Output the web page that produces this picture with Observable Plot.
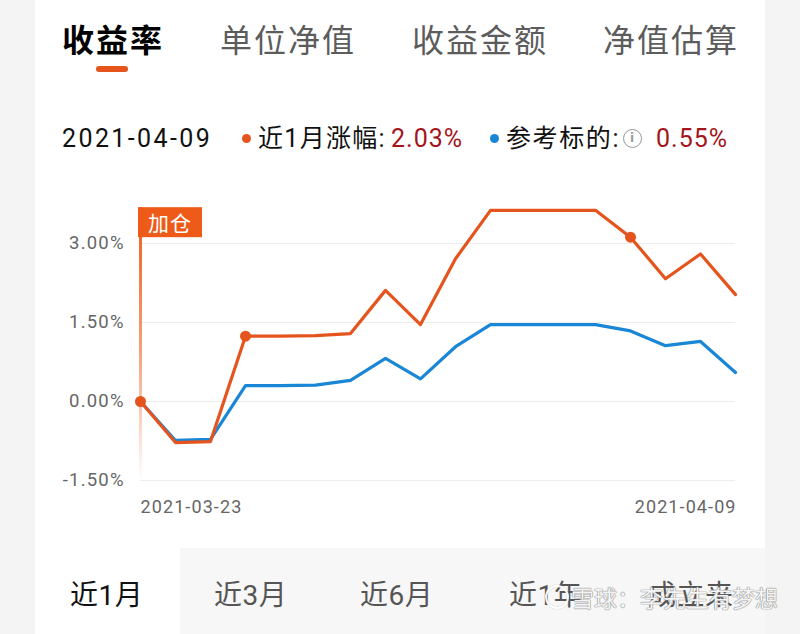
<!DOCTYPE html>
<html><head><meta charset="utf-8">
<script src="https://cdn.jsdelivr.net/npm/d3@7"></script>
<script src="https://cdn.jsdelivr.net/npm/@observablehq/plot@0.6"></script>
<style>
html,body{margin:0;padding:0;background:#f4f4f4;}
#page{position:relative;width:800px;height:634px;overflow:hidden;background:#f4f4f4;font-family:Roboto,"Noto Sans CJK SC",sans-serif;}
#card{position:absolute;left:35px;top:0;width:730px;height:548px;background:#fff;}
#tabsel{position:absolute;left:35px;top:548px;width:145px;height:86px;background:#fff;}
#tabrest{position:absolute;left:180px;top:548px;width:585px;height:86px;background:#f7f7f7;}
.t{position:absolute;white-space:nowrap;}
#chart{position:absolute;left:35px;top:180px;}
.dot{position:absolute;border-radius:50%;}
</style></head>
<body><div id="page"><div id="card"></div><div id="tabsel"></div><div id="tabrest"></div><div id="chart"></div></div>
<script>
// ---- data ----
const topTabs = ["收益率", "单位净值", "收益金额", "净值估算"];
const bottomTabs = ["近1月", "近3月", "近6月", "近1年", "成立来"];
const dates = ["2021-03-23","2021-03-24","2021-03-25","2021-03-26","2021-03-27","2021-03-28","2021-03-29","2021-03-30","2021-03-31","2021-04-01","2021-04-02","2021-04-03","2021-04-04","2021-04-05","2021-04-06","2021-04-07","2021-04-08","2021-04-09"];
const fund  = [0, -0.78, -0.76, 1.24, 1.24, 1.25, 1.29, 2.11, 1.46, 2.71, 3.63, 3.63, 3.63, 3.63, 3.12, 2.33, 2.80, 2.03];
const bench = [0, -0.74, -0.72, 0.30, 0.30, 0.31, 0.40, 0.82, 0.43, 1.04, 1.46, 1.46, 1.46, 1.46, 1.34, 1.06, 1.14, 0.55];
const markerDates = ["2021-03-23", "2021-03-26", "2021-04-06"];
const yTicks = [-1.5, 0, 1.5, 3.0];
const xTickLabels = ["2021-03-23", "2021-04-09"];
const fundLabel = "近1月涨幅:";
const benchLabel = "参考标的:";
const addLabel = "加仓";
const watermark = "雪球：李先生有梦想";

// ---- styles ----
const ORANGE = "#e5541c", BLUE = "#1a86d6", BOX = "#ee5a18", RED = "#a3151b";
const page = document.getElementById("page");
function addText(txt, left, cy, size, color, opts = {}) {
  const d = document.createElement("div");
  d.className = "t";
  d.textContent = txt;
  d.style.left = left + "px";
  d.style.top = (cy - size / 2) + "px";
  d.style.fontSize = size + "px";
  d.style.lineHeight = size + "px";
  d.style.height = size + "px";
  d.style.color = color;
  if (opts.weight) d.style.fontWeight = opts.weight;
  if (opts.ls) d.style.letterSpacing = opts.ls + "px";
  if (opts.family) d.style.fontFamily = opts.family;
  if (opts.shadow) d.style.textShadow = opts.shadow;
  page.appendChild(d);
  return d;
}
function addDot(cx, cy, r, color, border) {
  const d = document.createElement("div");
  d.className = "dot";
  d.style.left = (cx - r) + "px"; d.style.top = (cy - r) + "px";
  d.style.width = (2 * r) + "px"; d.style.height = (2 * r) + "px";
  if (border) { d.style.border = border; d.style.boxSizing = "border-box"; }
  else d.style.background = color;
  page.appendChild(d);
  return d;
}

// top tabs
const topLeft = [62, 220, 412, 603];
topTabs.forEach((t, i) => addText(t, topLeft[i], 38, 32, i === 0 ? "#000" : "#5c5c5c",
  {weight: i === 0 ? 700 : 400, ls: 2, family: '"Noto Sans CJK SC"'}));
const ul = document.createElement("div");
Object.assign(ul.style, {position: "absolute", left: "96px", top: "66px", width: "32px", height: "6px", borderRadius: "3px", background: ORANGE});
page.appendChild(ul);

// legend row
const fmt = v => v.toFixed(2) + "%";
addText(dates[dates.length - 1], 62, 138, 25, "#111", {ls: 2.4});
addDot(246, 138, 4.5, ORANGE);
addText(fundLabel, 258, 138, 25, "#111", {ls: 1.3});
addText(fmt(fund[fund.length - 1]), 391, 138, 25, RED, {ls: 1});
addDot(494, 138, 4.5, BLUE);
addText(benchLabel, 506, 138, 25, "#111", {ls: 1.6});
const info = addDot(632, 138, 9.5, null, "1.5px solid #9a9a9a");
info.innerHTML = '<div style="position:absolute;left:0;top:0;width:100%;height:100%;text-align:center;font:bold 12px/16px DejaVu Sans, sans-serif;color:#9a9a9a">i</div>';
addText(fmt(bench[bench.length - 1]), 656, 138, 25, RED, {ls: 1});

// bottom tabs
const botLeft = [70, 214, 360, 509, 648];
bottomTabs.forEach((t, i) => addText(t, botLeft[i], 596, 28, i === 0 ? "#111" : "#555", {ls: 0.5}));

// watermark
const wm = addDot(557, 597, 12, null, "2px solid rgba(255,255,255,0.9)");
wm.style.boxShadow = "0 0 1px #999, inset 0 0 1px #999";
addText(watermark, 571, 597, 23, "rgba(255,255,255,0.92)",
  {shadow: "0 0 1px #8a8a8a, 0 0 1px #8a8a8a, 0 0 1px #8a8a8a", family: '"Noto Sans CJK SC"'});

// ---- chart ----
const data = dates.map((d, i) => ({date: new Date(d), fund: fund[i], bench: bench[i]}));
const markers = data.filter(d => markerDates.includes(d.date.toISOString().slice(0, 10)));
const ruleTop = 3.68;
const plot = Plot.plot({
  width: 730, height: 350,
  marginLeft: 105, marginRight: 30, marginTop: 63, marginBottom: 50,
  style: {background: "transparent", fontFamily: "Roboto, sans-serif", overflow: "visible"},
  x: {type: "utc", domain: [new Date(dates[0]), new Date(dates[dates.length - 1])], axis: null},
  y: {domain: [-1.5, 3.0], axis: null},
  marks: [
    Plot.gridY(yTicks, {stroke: "#ececec", strokeOpacity: 1, strokeWidth: 1}),
    Plot.text(yTicks, {y: d => d, frameAnchor: "left", dx: -15.8, textAnchor: "end", text: d => fmt(d), fill: "#666", fontSize: 18.5}),
    Plot.text([xTickLabels[0]], {x: d => new Date(d), frameAnchor: "bottom", dy: 32, textAnchor: "start", text: d => d, fill: "#666", fontSize: 18}),
    Plot.text([xTickLabels[1]], {x: d => new Date(d), frameAnchor: "bottom", dy: 32, dx: 1.1, textAnchor: "end", text: d => d, fill: "#666", fontSize: 18}),
    Plot.ruleX([data[0]], {x: "date", y1: ruleTop, y2: -1.5, stroke: "url(#addGrad)", strokeWidth: 3}),
    Plot.line(data, {x: "date", y: "bench", stroke: BLUE, strokeWidth: 3.2, strokeLinejoin: "round", strokeLinecap: "round"}),
    Plot.line(data, {x: "date", y: "fund", stroke: ORANGE, strokeWidth: 3.2, strokeLinejoin: "round", strokeLinecap: "round"}),
    Plot.dot(markers, {x: "date", y: "fund", r: 5.5, fill: ORANGE})
  ]
});
const xs = plot.scale("x"), ys = plot.scale("y");
const svg = d3.select(plot);
svg.selectAll("text").each(function () {
  const s = this.textContent;
  this.style.letterSpacing = s.endsWith("%") ? "1.2px" : "1.1px";
});
const defs = svg.insert("defs", ":first-child");
const g = defs.append("linearGradient").attr("id", "addGrad").attr("gradientUnits", "userSpaceOnUse")
  .attr("x1", 0).attr("x2", 0).attr("y1", ys.apply(ruleTop)).attr("y2", ys.apply(-1.5));
g.append("stop").attr("offset", 0).attr("stop-color", BOX).attr("stop-opacity", 1);
g.append("stop").attr("offset", 0.55).attr("stop-color", BOX).attr("stop-opacity", 0.55);
g.append("stop").attr("offset", 1).attr("stop-color", BOX).attr("stop-opacity", 0);
const bx = xs.apply(data[0].date) - 2, by = ys.apply(ruleTop);
const lab = svg.append("g");
lab.append("rect").attr("x", bx).attr("y", by).attr("width", 64).attr("height", 30).attr("fill", BOX);
lab.append("text").attr("x", bx + 32).attr("y", by + 15).attr("text-anchor", "middle").attr("dominant-baseline", "central")
  .attr("fill", "#fff").attr("font-size", 21).attr("font-family", '"Noto Sans CJK SC", sans-serif').attr("letter-spacing", 1).text(addLabel);
document.getElementById("chart").appendChild(plot);
</script>
</body></html>
